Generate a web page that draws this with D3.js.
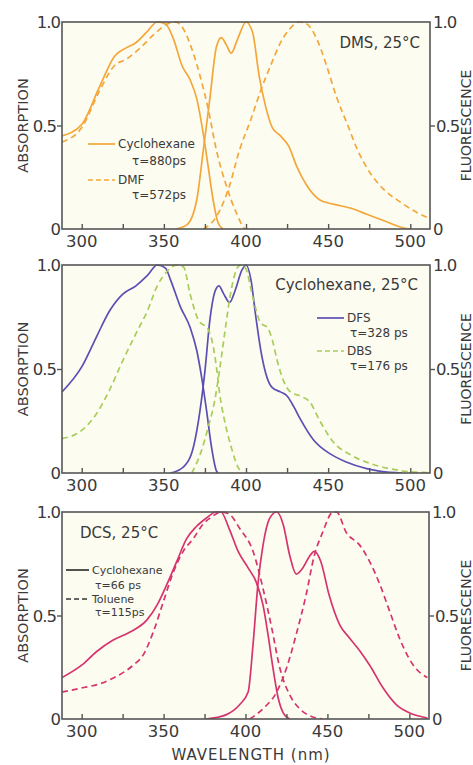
<!DOCTYPE html>
<html><head><meta charset="utf-8">
<script src="https://cdn.jsdelivr.net/npm/d3@7"></script>
<style>
html,body{margin:0;padding:0;background:#ffffff;}
svg{display:block;font-family:"DejaVu Sans",sans-serif;}
</style></head>
<body><svg id="c" width="473" height="765"></svg>
<script>
// ---------- DATA ----------
const xTicks = [300, 350, 400, 450, 500];
const xMinorTicks = [300, 325, 350, 375, 400, 425, 450, 475, 500];
const yTickLabels = ["0", "0.5", "1.0"];
const yTicks = [0, 0.5, 1];

// Panel 1: DMS, 25°C
const dmsCycAbs = [[288,0.45],[300,0.505],[311,0.69],[320,0.835],[327,0.875],[333,0.9],[340,0.955],[346,1.0],[351,0.99],[356,0.915],[361,0.79],[366,0.72],[370,0.63],[374,0.46],[377,0.30],[380,0.14],[383,0.03],[386,0]];
const dmsDmfAbs = [[288,0.42],[300,0.49],[311,0.67],[320,0.79],[327,0.82],[335,0.87],[344,0.94],[352,0.99],[357,1.0],[362,0.965],[367,0.87],[372,0.74],[377,0.58],[382,0.38],[388,0.21],[394,0.08],[400,0],[405,0]];
const dmsCycFl = [[357,0],[364,0.02],[370,0.14],[374,0.38],[378,0.63],[382,0.88],[385,0.925],[388,0.89],[391,0.85],[395,0.92],[400,1.0],[404,0.95],[408,0.74],[412,0.59],[416,0.49],[421,0.45],[426,0.40],[431,0.30],[437,0.21],[445,0.14],[453,0.12],[464,0.10],[474,0.07],[484,0.04],[496,0.005],[500,0]];
const dmsDmfFl = [[374,0],[382,0.06],[390,0.21],[396,0.38],[403,0.53],[409,0.67],[415,0.79],[421,0.9],[427,0.97],[432,1.0],[437,0.99],[443,0.92],[449,0.79],[455,0.64],[462,0.5],[468,0.38],[474,0.29],[484,0.19],[494,0.13],[504,0.08],[512,0.05]];

// Panel 2: Cyclohexane, 25°C
const dfsAbs = [[288,0.39],[300,0.51],[309,0.655],[317,0.78],[325,0.86],[333,0.9],[340,0.95],[346,1.0],[351,0.985],[354,0.93],[360,0.80],[366,0.70],[370,0.59],[373,0.46],[376,0.30],[379,0.125],[382,0.01],[383,0]];
const dfsFl = [[354,0],[362,0.03],[368,0.125],[372,0.30],[375,0.49],[378,0.735],[381,0.87],[383.5,0.90],[386.5,0.86],[390,0.82],[393.5,0.88],[397.5,0.975],[400,1.0],[403,0.93],[406,0.75],[409,0.59],[412,0.48],[416,0.41],[421,0.39],[425,0.37],[429,0.32],[433,0.26],[441,0.16],[451,0.093],[461,0.053],[474,0.02],[482,0.008],[495,0]];
const dbsAbs = [[288,0.165],[300,0.205],[309,0.285],[317,0.4],[325,0.54],[333,0.67],[340,0.78],[346,0.90],[352,0.97],[358,1.0],[362,0.99],[366,0.86],[371,0.735],[377,0.69],[380,0.61],[382,0.51],[384,0.38],[387,0.25],[391,0.125],[395,0.03],[398,0]];
const dbsFl = [[367,0],[373,0.11],[377,0.22],[381,0.35],[384,0.5],[387,0.67],[391,0.88],[395,0.99],[397,1.0],[400,0.98],[404,0.85],[409,0.72],[413,0.70],[416,0.64],[419,0.54],[423,0.44],[427,0.39],[433,0.37],[439,0.34],[445,0.25],[453,0.15],[463,0.09],[476,0.045],[488,0.02],[500,0.006],[512,0.002]];

// Panel 3: DCS, 25°C
const dcsCycAbs = [[288,0.2],[300,0.26],[309,0.325],[319,0.38],[329.5,0.42],[340,0.48],[346,0.55],[352,0.65],[358,0.76],[364,0.87],[370,0.93],[376,0.97],[382,1.0],[385,1.0],[390,0.92],[395.5,0.81],[401.6,0.73],[406.6,0.66],[410.7,0.55],[413.7,0.41],[416.8,0.245],[420,0.1],[423,0.03],[427,0]];
const dcsTolAbs = [[288,0.13],[300,0.15],[311,0.17],[321,0.205],[331.5,0.26],[337.6,0.31],[343.7,0.42],[350,0.57],[356,0.71],[362,0.81],[368,0.87],[374,0.94],[380,0.98],[385,1.0],[390,0.99],[396.5,0.92],[404.6,0.81],[410.7,0.63],[416,0.44],[421,0.245],[427,0.116],[433,0.05],[441,0.01],[447,0]];
const dcsCycFl = [[376,0],[388,0.02],[396.5,0.07],[401.6,0.13],[404.6,0.36],[407.7,0.66],[410.7,0.84],[414.8,0.97],[419,1.0],[423,0.94],[427,0.79],[431,0.70],[435,0.73],[439,0.785],[442,0.81],[446,0.76],[451,0.6],[457.5,0.455],[463.6,0.39],[469.7,0.33],[475.8,0.26],[484,0.15],[492,0.07],[500,0.03],[511,0.005]];
const dcsTolFl = [[402.6,0],[410.7,0.05],[419,0.13],[425,0.245],[431,0.41],[437,0.6],[442,0.79],[447,0.9],[453.5,1.0],[455.5,1.0],[461.6,0.9],[469.7,0.84],[475.8,0.76],[482,0.65],[488,0.52],[494,0.39],[502.4,0.26],[511,0.2]];

const panelTitles = ["DMS, 25°C", "Cyclohexane, 25°C", "DCS, 25°C"];
const legendNames = [["Cyclohexane", "DMF"], ["DFS", "DBS"], ["Cyclohexane", "Toluene"]];
const legendLifetimes = [["τ=880ps", "τ=572ps"], ["τ=328 ps", "τ=176 ps"], ["τ=66 ps", "τ=115ps"]];
const xLabel = "WAVELENGTH (nm)";
const yLabelLeft = "ABSORPTION";
const yLabelRight = "FLUORESCENCE";

// ---------- LAYOUT / STYLE ----------
const svg = d3.select("#c");
const axisColor = "#555";
const textColor = "#3a3a3a";
const panels = [
  {top:22, bottom:229, left:62, right:430, color:"#f3a73a", color2:"#f3a73a", rx:471,
   series:[[dmsCycAbs,0],[dmsDmfAbs,1],[dmsCycFl,0],[dmsDmfFl,1]],
   title:{x:420, y:48, anchor:"end"},
   legend:{lx:88, y1:144, y2:180, tx:118, sub1:165, sub2:199, subx:132, lw:27, fs:12}},
  {top:265, bottom:473, left:62, right:430, color:"#5b4fb3", color2:"#a8cd5a", rx:471,
   series:[[dfsAbs,0],[dfsFl,0],[dbsAbs,1],[dbsFl,1]],
   title:{x:418, y:290, anchor:"end"},
   legend:{lx:317, y1:318, y2:351, tx:347, sub1:337, sub2:370, subx:350, lw:27, fs:12}},
  {top:512, bottom:719, left:62, right:429, color:"#d6346e", color2:"#d6346e", rx:471,
   series:[[dcsCycAbs,0],[dcsTolAbs,1],[dcsCycFl,0],[dcsTolFl,1]],
   title:{x:80, y:538, anchor:"start"},
   legend:{lx:66, y1:570, y2:599, tx:92, sub1:589, sub2:616, subx:95, lw:23, fs:11, solidLegendColor:"#333", dashLegendColor:"#333"}}
];
const dash = "6,4";

panels.forEach((p, i) => {
  const x = d3.scaleLinear().domain([288, 512]).range([p.left, p.right]);
  const y = d3.scaleLinear().domain([0, 1]).range([p.bottom, p.top]);
  const g = svg.append("g");

  g.append("rect").attr("x", p.left).attr("y", p.top)
    .attr("width", p.right - p.left).attr("height", p.bottom - p.top)
    .attr("fill", "#fdfcf1");

  const clipId = "clip" + i;
  svg.append("clipPath").attr("id", clipId).append("rect")
    .attr("x", p.left).attr("y", p.top - 2).attr("width", p.right - p.left).attr("height", p.bottom - p.top + 2);

  const line = d3.line().x(d => x(d[0])).y(d => y(d[1])).curve(d3.curveMonotoneX);
  p.series.forEach(([data, style]) => {
    g.append("path").datum(data).attr("d", line)
      .attr("clip-path", `url(#${clipId})`)
      .attr("fill", "none")
      .attr("stroke", style === 0 ? p.color : p.color2)
      .attr("stroke-width", 1.7)
      .attr("stroke-dasharray", style === 1 ? dash : null);
  });

  // frame
  g.append("rect").attr("x", p.left).attr("y", p.top)
    .attr("width", p.right - p.left).attr("height", p.bottom - p.top)
    .attr("fill", "none").attr("stroke", axisColor).attr("stroke-width", 1.6);

  // bottom axis: inward ticks
  const xAxis = d3.axisBottom(x).tickValues(xMinorTicks).tickSize(-5).tickFormat("");
  const xa = g.append("g").attr("transform", `translate(0,${p.bottom})`).call(xAxis);
  xa.select(".domain").remove();
  xa.selectAll("line").attr("stroke", axisColor).attr("stroke-width", 1.4);
  g.selectAll(".xl").data(xTicks).enter().append("text")
    .attr("x", d => x(d)).attr("y", p.bottom + 18)
    .attr("text-anchor", "middle").attr("font-size", 16.5).attr("fill", textColor)
    .text(d => d);

  // left axis
  const yAxisL = d3.axisLeft(y).tickValues([0.5]).tickSize(5).tickFormat("");
  const yl = g.append("g").attr("transform", `translate(${p.left},0)`).call(yAxisL);
  yl.select(".domain").remove();
  yl.selectAll("line").attr("stroke", axisColor).attr("stroke-width", 1.4);
  g.selectAll(".yll").data(yTicks).enter().append("text")
    .attr("x", d => d === 0.5 ? p.left - 6 : p.left - 2)
    .attr("y", d => y(d) + 6)
    .attr("text-anchor", "end").attr("font-size", 16.5).attr("fill", textColor)
    .attr("letter-spacing", -1)
    .text((d, k) => yTickLabels[k]);

  // right axis
  const yAxisR = d3.axisRight(y).tickValues([0.5]).tickSize(5).tickFormat("");
  const yr = g.append("g").attr("transform", `translate(${p.right},0)`).call(yAxisR);
  yr.select(".domain").remove();
  yr.selectAll("line").attr("stroke", axisColor).attr("stroke-width", 1.4);
  g.selectAll(".yrl").data(yTicks).enter().append("text")
    .attr("x", d => d === 0.5 ? p.right + 6 : p.right + 3)
    .attr("y", d => y(d) + 6)
    .attr("text-anchor", "start").attr("font-size", 16.5).attr("fill", textColor)
    .attr("letter-spacing", -1)
    .text((d, k) => yTickLabels[k]);

  // axis titles
  const cy = (p.top + p.bottom) / 2;
  g.append("text").attr("transform", `translate(28,${cy}) rotate(-90)`)
    .attr("text-anchor", "middle").attr("font-size", 14.5).attr("fill", textColor)
    .text(yLabelLeft);
  g.append("text").attr("transform", `translate(${p.rx},${cy}) rotate(-90)`)
    .attr("text-anchor", "middle").attr("font-size", 14).attr("fill", textColor)
    .text(yLabelRight);

  // panel title
  g.append("text").attr("x", p.title.x).attr("y", p.title.y)
    .attr("text-anchor", p.title.anchor).attr("font-size", 15).attr("fill", textColor)
    .text(panelTitles[i]);

  // legend
  const L = p.legend;
  const c1 = L.solidLegendColor || p.color;
  const c2 = L.dashLegendColor || p.color2;
  g.append("line").attr("x1", L.lx).attr("x2", L.lx + L.lw).attr("y1", L.y1).attr("y2", L.y1)
    .attr("stroke", c1).attr("stroke-width", 1.7);
  g.append("line").attr("x1", L.lx).attr("x2", L.lx + L.lw).attr("y1", L.y2).attr("y2", L.y2)
    .attr("stroke", c2).attr("stroke-width", 1.7).attr("stroke-dasharray", "5,3");
  g.append("text").attr("x", L.tx).attr("y", L.y1 + 4).attr("font-size", L.fs).attr("fill", textColor).text(legendNames[i][0]);
  g.append("text").attr("x", L.subx).attr("y", L.sub1).attr("font-size", L.fs).attr("fill", textColor).text(legendLifetimes[i][0]);
  g.append("text").attr("x", L.tx).attr("y", L.y2 + 4).attr("font-size", L.fs).attr("fill", textColor).text(legendNames[i][1]);
  g.append("text").attr("x", L.subx).attr("y", L.sub2).attr("font-size", L.fs).attr("fill", textColor).text(legendLifetimes[i][1]);
});

svg.append("text").attr("x", 251).attr("y", 760).attr("text-anchor", "middle")
  .attr("font-size", 15).attr("letter-spacing", 1).attr("fill", textColor).text(xLabel);
</script></body></html>
